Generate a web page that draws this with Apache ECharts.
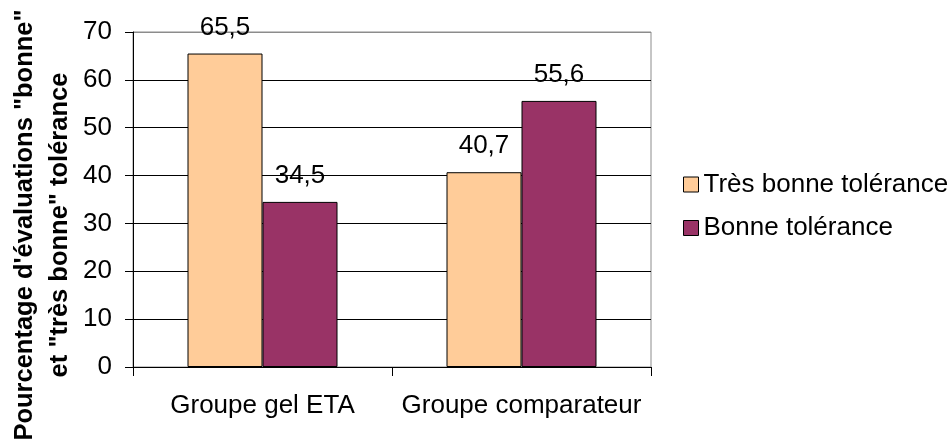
<!DOCTYPE html>
<html>
<head>
<meta charset="utf-8">
<script src="https://cdn.jsdelivr.net/npm/echarts@6/dist/echarts.min.js"></script>
<style>
html, body { margin: 0; padding: 0; background: #fff; }
#chart { width: 949px; height: 441px; }
</style>
</head>
<body>
<div id="chart"></div>
<script>
const categories = ['Groupe gel ETA', 'Groupe comparateur'];
const seriesNames = ['Très bonne tolérance', 'Bonne tolérance'];
const tresBonne = [65.5, 40.7];
const bonne = [34.5, 55.6];
const yTitleLines = ['Pourcentage d\'évaluations "bonne"', 'et "très bonne" tolérance'];

const FONT = "'Liberation Sans', Arial, sans-serif";
const FS = 26;
const chart = echarts.init(document.getElementById('chart'), null, { renderer: 'canvas' });

const labelFmt = p => String(p.value).replace('.', ',');

chart.setOption({
  animation: false,
  backgroundColor: '#ffffff',
  textStyle: { fontFamily: FONT },
  grid: {
    left: 133, right: 298, top: 32, bottom: 74,
    show: true, borderColor: '#8c8c8c', borderWidth: 1, backgroundColor: 'transparent'
  },
  legend: {
    orient: 'vertical',
    left: 678, top: 165,
    icon: 'rect',
    itemWidth: 15, itemHeight: 15, itemGap: 14.5,
    itemStyle: { borderColor: '#000', borderWidth: 1 },
    textStyle: { fontFamily: FONT, fontSize: FS, color: '#000', lineHeight: 29 },
    data: seriesNames
  },
  xAxis: {
    type: 'category',
    data: categories,
    axisLine: { show: true, lineStyle: { color: '#000', width: 1 } },
    axisTick: { show: true, length: 9, lineStyle: { color: '#000' } },
    axisLabel: { fontFamily: FONT, fontSize: FS, color: '#000', margin: 26, interval: 0 },
    splitLine: { show: false }
  },
  yAxis: {
    type: 'value',
    min: 0, max: 70, interval: 10,
    axisLine: { show: true, lineStyle: { color: '#000', width: 1 } },
    axisTick: { show: true, length: 8, lineStyle: { color: '#000' } },
    axisLabel: { fontFamily: FONT, fontSize: FS, color: '#000', margin: 21 },
    splitLine: { show: true, lineStyle: { color: ['#000','#000','#000','#000','#000','#000','#000','#8c8c8c'], width: 1 } }
  },
  graphic: yTitleLines.map((t, i) => ({
    type: 'text',
    x: 25 + i * 35, y: 225,
    rotation: Math.PI / 2,
    style: {
      text: t,
      font: "bold 25.5px 'Liberation Sans', Arial, sans-serif",
      fill: '#000',
      align: 'center',
      verticalAlign: 'middle'
    }
  })),
  series: [
    {
      name: seriesNames[0], type: 'bar', data: tresBonne,
      barWidth: 75, barGap: '0%',
      itemStyle: { color: '#FFCC99', borderColor: '#000', borderWidth: 1 },
      label: { show: true, position: 'top', distance: 13, fontFamily: FONT, fontSize: FS, color: '#000', formatter: labelFmt }
    },
    {
      name: seriesNames[1], type: 'bar', data: bonne,
      barWidth: 75, barGap: '0%',
      itemStyle: { color: '#993366', borderColor: '#000', borderWidth: 1 },
      label: { show: true, position: 'top', distance: 13, fontFamily: FONT, fontSize: FS, color: '#000', formatter: labelFmt }
    }
  ]
});
</script>
</body>
</html>
